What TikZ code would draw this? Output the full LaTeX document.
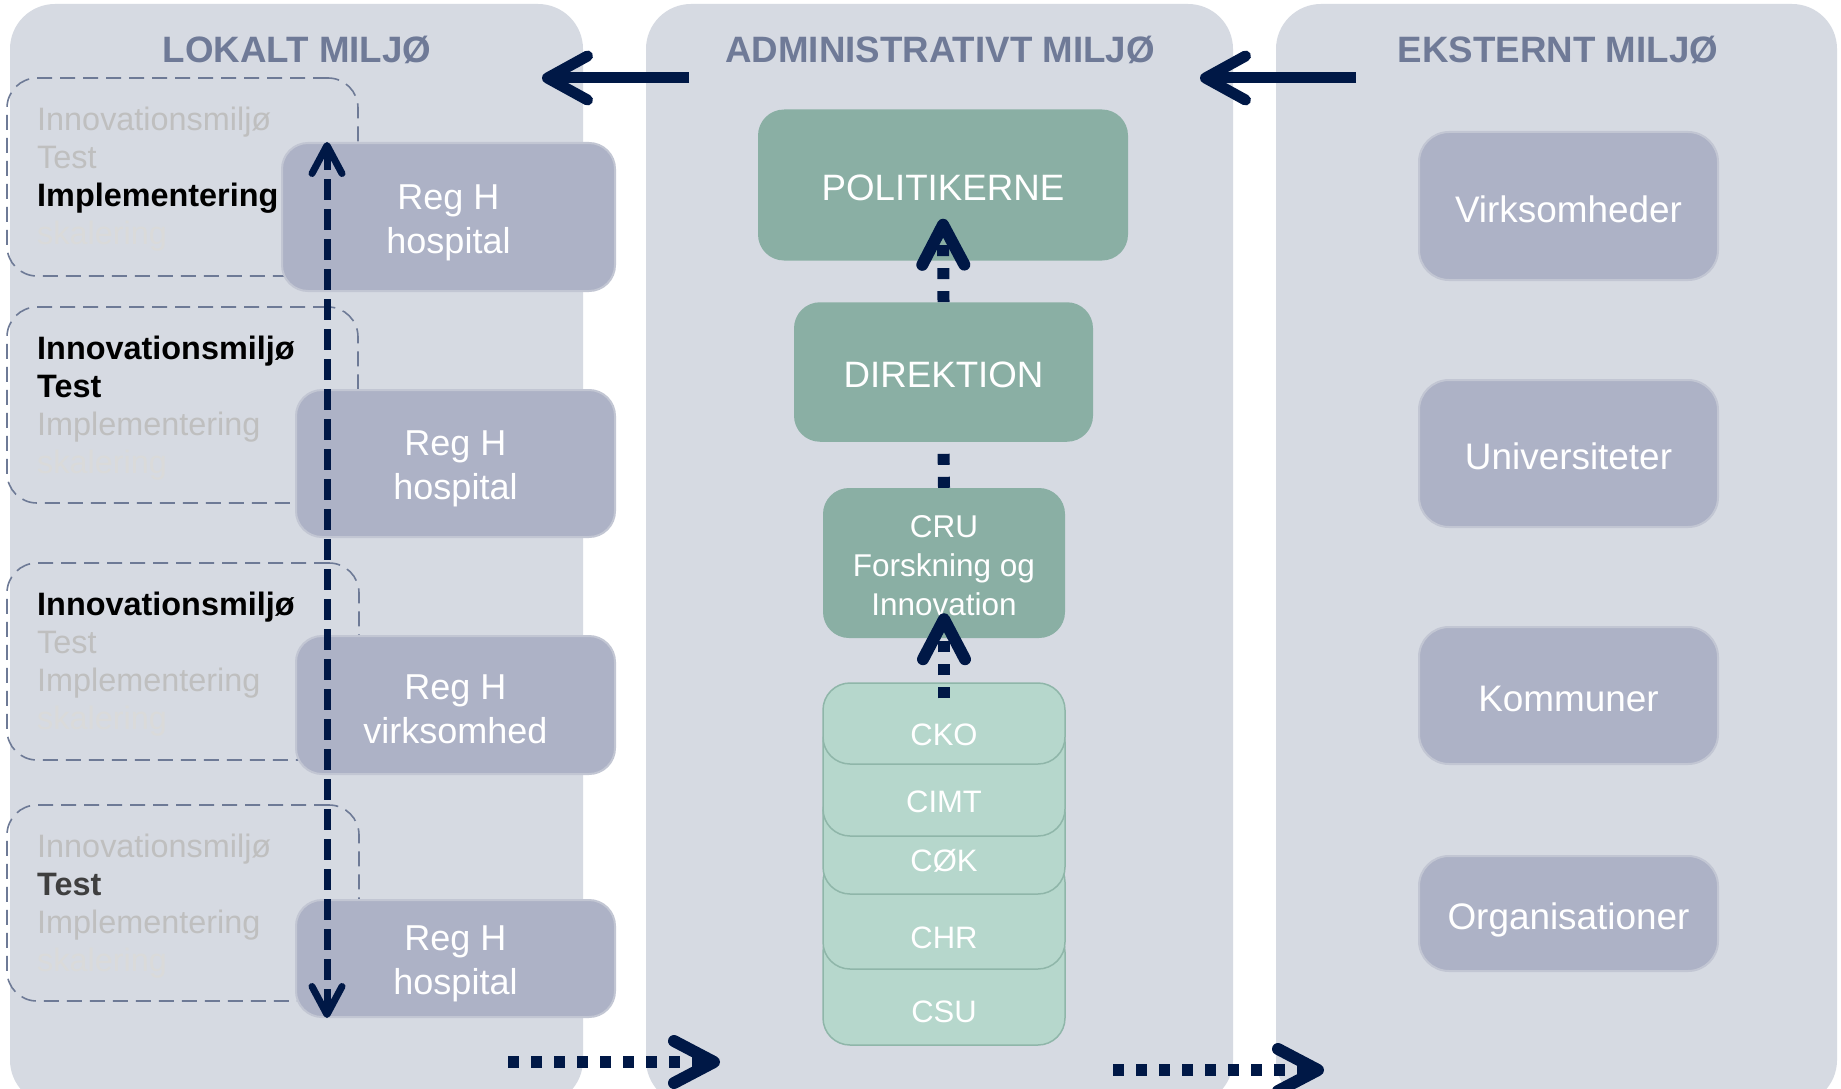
\documentclass[tikz,border=0pt]{standalone}
\usepackage{fontspec}
\setmainfont{Liberation Sans}
\usetikzlibrary{arrows.meta,calc}
\definecolor{panelbg}{HTML}{D6DAE2}
\definecolor{titlec}{HTML}{6F7A97}
\definecolor{regfill}{HTML}{ADB2C6}
\definecolor{regborder}{HTML}{C2C6D3}
\definecolor{navy}{HTML}{001846}
\definecolor{tealc}{HTML}{8AAFA4}
\definecolor{mintc}{HTML}{B6D7CC}
\definecolor{mintborder}{HTML}{8FB6A9}
\definecolor{dashc}{HTML}{6E7A96}
\definecolor{greytxt}{HTML}{BFBFBF}
\definecolor{fainttxt}{HTML}{DADADA}
\definecolor{darktxt}{HTML}{3F3F3F}
\newcommand\fz[2]{\fontsize{#1}{#2}\selectfont}
\newcommand\lowstrut[1]{\rule{0pt}{#1}}
\begin{document}
\begin{tikzpicture}[x=1pt,y=-1pt,
  panel/.style={fill=panelbg, draw=none, rounded corners=45pt, inner sep=0pt, outer sep=0pt},
  title/.style={font=\fz{36.7}{44}\bfseries, text=titlec, inner sep=0pt},
  stagebox/.style={draw=dashc, line width=1.6pt, dash pattern=on 15pt off 8pt, rounded corners=30pt, inner sep=0pt},
  stagetxt/.style={anchor=base west, inner sep=0pt, font=\fz{32.4}{38}, text=greytxt},
  stagebold/.style={font=\fz{32.4}{38}\bfseries, text=black},
  faint/.style={text=fainttxt},
  regbox/.style={fill=regfill, draw=regborder, line width=2pt, rounded corners=26pt, inner sep=0pt, align=center, text=white, font=\fz{36}{44}},
  extbox/.style={regbox, rounded corners=30pt, minimum width=299pt, font=\fz{36.9}{44}, text height=32.4pt, text depth=0pt},
  tealbox/.style={fill=tealc, draw=none, rounded corners=26pt, inner sep=0pt, align=center, text=white},
  mintbox/.style={fill=mintc, draw=mintborder, line width=1.5pt, rounded corners=27pt, inner sep=0pt, minimum width=242pt},
  stacktxt/.style={text=white, inner sep=0pt, font=\fz{31}{37}, text height=26pt, text depth=0pt},
  bigarrow/.style={draw=navy, line width=11pt, -{Straight Barb[length=40pt, width=44pt, round]}},
  dotarrow/.style={draw=navy, line width=12pt, dash pattern=on 11pt off 12pt},
  dothead/.style={-{Straight Barb[length=40pt, width=42pt, round]}},
  vdash/.style={draw=navy, line width=7pt, dash pattern=on 21pt off 9pt,
     {Straight Barb[length=28pt, width=30pt, round]}-{Straight Barb[length=28pt, width=30pt, round]}}
]
\useasboundingbox (0,0) rectangle (1841,1089);
\fill[white] (0,0) rectangle (1841,1089);
\begin{scope}
\clip (0,0) rectangle (1841,1089);
\node[panel, minimum width=573pt, minimum height=1101pt] (PL) at (296.5,554.5) {};
\node[panel, minimum width=587pt, minimum height=1101pt] (PM) at (939.5,554.5) {};
\node[panel, minimum width=561pt, minimum height=1101pt] (PR) at (1556.5,554.5) {};
\end{scope}

% titles
\node[title] (TL) at (297,50) {LOKALT MILJØ};
\node[title] (TM) at (940,50) {ADMINISTRATIVT MILJØ};
\node[title] (TR) at (1558,50) {EKSTERNT MILJØ};

% top arrows
\coordinate (a1s) at (689,78);
\coordinate (a1e) at (542,78);
\coordinate (a2s) at (1356,78);
\coordinate (a2e) at (1200,78);
\draw[bigarrow] (a1s) -- (a1e);
\draw[bigarrow] (a2s) -- (a2e);

% stage boxes (dashed)
\node[stagebox, minimum width=351pt, minimum height=198pt] (d1) at (182.5,177) {};
\node[stagebox, minimum width=351pt, minimum height=196pt] (d2) at (182.5,405) {};
\node[stagebox, minimum width=352pt, minimum height=197pt] (d3) at (183,661.5) {};
\node[stagebox, minimum width=352pt, minimum height=196pt] (d4) at (183,903) {};

\node[stagetxt] (s1a) at (37,130.5) {Innovationsmiljø};
\node[stagetxt] (s1b) at (37,168.5) {Test};
\node[stagetxt, stagebold] (s1c) at (37,206.5) {Implementering};
\node[stagetxt, faint] (s1d) at (37,244.5) {skalering};

\node[stagetxt, stagebold] (s2a) at (37,359.5) {Innovationsmiljø};
\node[stagetxt, stagebold] (s2b) at (37,397.5) {Test};
\node[stagetxt] (s2c) at (37,435.5) {Implementering};
\node[stagetxt, faint] (s2d) at (37,473.5) {skalering};

\node[stagetxt, stagebold] (s3a) at (37,615.5) {Innovationsmiljø};
\node[stagetxt] (s3b) at (37,653.5) {Test};
\node[stagetxt] (s3c) at (37,691.5) {Implementering};
\node[stagetxt, faint] (s3d) at (37,729.5) {skalering};

\node[stagetxt] (s4a) at (37,857.5) {Innovationsmiljø};
\node[stagetxt, stagebold, text=darktxt] (s4b) at (37,895.5) {Test};
\node[stagetxt] (s4c) at (37,933.5) {Implementering};
\node[stagetxt, faint] (s4d) at (37,971.5) {skalering};

% Reg H boxes
\node[regbox, minimum width=333pt, minimum height=148pt] (rA) at (448.5,217) {\lowstrut{36pt}Reg H\\hospital};
\node[regbox, minimum width=319pt, minimum height=147pt] (rB) at (455.5,463.5) {\lowstrut{36pt}Reg H\\hospital};
\node[regbox, minimum width=319pt, minimum height=138pt] (rC) at (455.5,705) {\lowstrut{34pt}Reg H\\virksomhed};
\node[regbox, minimum width=319pt, minimum height=117pt] (rD) at (455.5,958.5) {\lowstrut{36pt}Reg H\\hospital};

% vertical double arrow
\coordinate (vx) at (327,0);
\draw[vdash] (rA.north -| vx) -- (rD.south -| vx);

% middle column
\node[tealbox, minimum width=370pt, minimum height=151pt, font=\fz{36.7}{44}, text height=30.5pt, text depth=0pt] (POL) at (943,185) {POLITIKERNE};
\node[tealbox, minimum width=299pt, minimum height=139.5pt, font=\fz{36.7}{44}, text height=30.5pt, text depth=0pt] (DIR) at (943.5,372) {DIREKTION};
\node[tealbox, minimum width=242pt, minimum height=150pt, font=\fz{31.5}{38.7}] (CRU) at (944,563) {\lowstrut{27pt}CRU\\Forskning og\\Innovation};

\coordinate (poltip) at ($(POL.south)+(0,-42)$);
\draw[dotarrow, dothead] (DIR.north) -- (poltip);
\draw[dotarrow] (CRU.north) -- (DIR.south);

% stacked centres
\node[mintbox, minimum height=120pt] (CSU) at (944,985) {};
\node[mintbox, minimum height=114pt] (CHR) at (944,912) {};
\node[mintbox, minimum height=109pt] (COK) at (944,839.5) {};
\node[mintbox, minimum height=121pt] (CIMT) at (944,775.5) {};
\node[mintbox, minimum height=81pt] (CKO) at (944,723.5) {};
\node[stacktxt] (CSUt) at (944,1009) {CSU};
\node[stacktxt] (CHRt) at (944,935) {CHR};
\node[stacktxt] (COKt) at (944,858) {CØK};
\node[stacktxt] (CIMTt) at (944,799) {CIMT};
\node[stacktxt] (CKOt) at (944,732) {CKO};

\coordinate (ckostart) at ($(CKO.north)+(0,16)$);
\coordinate (crutip) at ($(CRU.south)+(0,-25)$);
\draw[dotarrow, dothead] (ckostart) -- (crutip);

% external boxes
\node[extbox, minimum height=148pt] (VIR) at (1568.5,206) {Virksomheder};
\node[extbox, minimum height=147pt] (UNI) at (1568.5,453.5) {Universiteter};
\node[extbox, minimum height=137pt] (KOM) at (1568.5,695.5) {Kommuner};
\node[extbox, minimum height=115pt] (ORG) at (1568.5,913.5) {Organisationer};

% bottom arrows
\coordinate (b1s) at (508,1062);
\coordinate (b1e) at (720,1062);
\coordinate (b2s) at (1113,1070);
\coordinate (b2e) at (1324,1070);
\draw[dotarrow, dothead] (b1s) -- (b1e);
\draw[dotarrow, dothead] (b2s) -- (b2e);
\end{tikzpicture}
\end{document}
